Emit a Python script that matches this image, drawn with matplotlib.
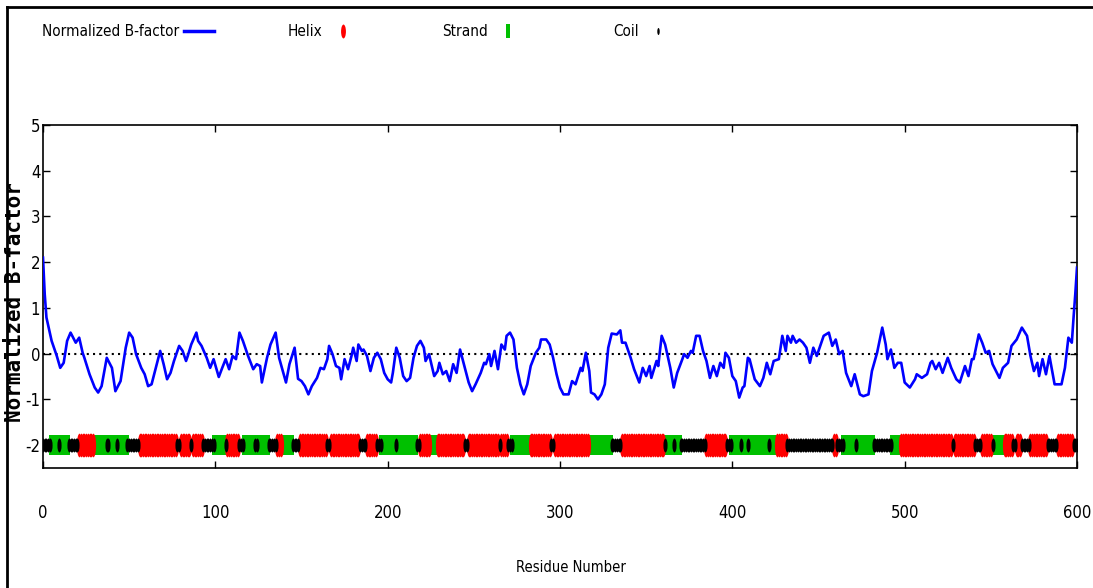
import numpy as np
import matplotlib
matplotlib.use('Agg')
import matplotlib.pyplot as plt
from matplotlib.lines import Line2D
from matplotlib.path import Path
from matplotlib.transforms import Affine2D

# normalized B-factor profile
residue = [0, 1, 2, 5, 8, 10, 12, 14, 16, 18, 19, 21, 23, 24, 27, 30, 32, 34, 37, 40,
           42, 45, 48, 50, 52, 54, 57, 59, 61, 63, 66, 68, 70, 72, 74, 76, 79, 81, 83, 84,
           86, 89, 90, 92, 95, 97, 99, 101, 102, 104, 106, 108, 110, 112, 114, 116, 119, 122, 124, 126,
           127, 130, 132, 135, 137, 141, 143, 146, 148, 150, 152, 154, 156, 159, 161, 163, 165, 166, 168, 170,
           172, 173, 175, 177, 179, 180, 182, 183, 185, 186, 188, 190, 192, 194, 196, 198, 200, 202, 203, 205,
           207, 209, 211, 213, 215, 217, 219, 221, 222, 224, 227, 229, 230, 232, 234, 236, 238, 240, 242, 245,
           247, 249, 251, 254, 256, 257, 259, 260, 262, 264, 266, 268, 269, 271, 273, 275, 277, 279, 281, 283,
           286, 288, 289, 292, 294, 296, 298, 300, 302, 305, 307, 309, 312, 313, 315, 317, 318, 320, 322, 324,
           326, 328, 330, 333, 335, 336, 338, 341, 343, 346, 348, 350, 352, 353, 356, 357, 359, 361, 364, 366,
           368, 371, 372, 374, 376, 377, 379, 381, 383, 385, 387, 389, 391, 393, 395, 396, 398, 400, 402, 404,
           406, 407, 409, 410, 413, 416, 418, 420, 422, 424, 427, 429, 431, 432, 434, 435, 437, 439, 441, 443,
           445, 447, 449, 451, 453, 456, 458, 460, 462, 464, 466, 469, 471, 474, 476, 479, 481, 484, 487, 489,
           490, 492, 494, 496, 498, 500, 503, 506, 507, 510, 513, 515, 516, 518, 520, 522, 525, 527, 530, 532,
           535, 537, 539, 540, 543, 545, 547, 549, 551, 555, 557, 560, 562, 565, 568, 571, 573, 575, 577, 578,
           580, 582, 584, 587, 591, 593, 595, 597, 598, 599, 600]
bfactor = [2.10, 1.30, 0.79, 0.28, -0.05, -0.31, -0.20, 0.28, 0.46, 0.31, 0.24, 0.35, 0.02, -0.09, -0.45, -0.74, -0.85, -0.71, -0.09, -0.31,
           -0.82, -0.60, 0.13, 0.46, 0.35, -0.01, -0.31, -0.45, -0.71, -0.67, -0.23, 0.06, -0.23, -0.56, -0.42, -0.16, 0.17, 0.06, -0.16, -0.05,
           0.20, 0.46, 0.28, 0.17, -0.09, -0.31, -0.12, -0.38, -0.51, -0.31, -0.12, -0.34, -0.05, -0.12, 0.46, 0.28, -0.05, -0.34, -0.23, -0.27,
           -0.63, -0.09, 0.20, 0.46, -0.09, -0.63, -0.23, 0.13, -0.55, -0.60, -0.71, -0.89, -0.71, -0.53, -0.31, -0.34, -0.12, 0.17, -0.01, -0.27,
           -0.31, -0.56, -0.12, -0.34, -0.05, 0.13, -0.16, 0.20, 0.06, 0.09, -0.05, -0.38, -0.09, 0.02, -0.12, -0.42, -0.56, -0.63, -0.42, 0.13,
           -0.09, -0.49, -0.60, -0.53, -0.09, 0.17, 0.28, 0.13, -0.16, -0.01, -0.49, -0.38, -0.20, -0.45, -0.38, -0.60, -0.23, -0.42, 0.09, -0.34,
           -0.63, -0.82, -0.67, -0.42, -0.20, -0.23, -0.01, -0.27, 0.06, -0.34, 0.20, 0.09, 0.39, 0.46, 0.31, -0.31, -0.67, -0.89, -0.67, -0.27,
           0.02, 0.13, 0.31, 0.31, 0.20, -0.09, -0.45, -0.74, -0.89, -0.89, -0.60, -0.67, -0.31, -0.38, 0.02, -0.38, -0.85, -0.89, -1.00, -0.89,
           -0.67, 0.13, 0.44, 0.42, 0.51, 0.24, 0.24, -0.09, -0.34, -0.63, -0.31, -0.49, -0.27, -0.53, -0.16, -0.27, 0.39, 0.20, -0.31, -0.74,
           -0.42, -0.12, -0.01, -0.09, 0.06, 0.02, 0.39, 0.39, 0.06, -0.16, -0.53, -0.27, -0.49, -0.20, -0.31, 0.02, -0.09, -0.49, -0.60, -0.96,
           -0.74, -0.71, -0.09, -0.12, -0.56, -0.71, -0.53, -0.20, -0.45, -0.16, -0.12, 0.39, 0.06, 0.39, 0.24, 0.39, 0.24, 0.31, 0.24, 0.13,
           -0.20, 0.13, -0.05, 0.17, 0.39, 0.46, 0.17, 0.31, -0.01, 0.06, -0.42, -0.71, -0.45, -0.89, -0.93, -0.89, -0.38, 0.02, 0.57, 0.20,
           -0.12, 0.09, -0.31, -0.20, -0.20, -0.63, -0.74, -0.56, -0.45, -0.53, -0.45, -0.20, -0.16, -0.34, -0.20, -0.42, -0.09, -0.31, -0.56, -0.63,
           -0.27, -0.49, -0.12, -0.12, 0.42, 0.24, 0.02, 0.06, -0.23, -0.53, -0.31, -0.20, 0.17, 0.31, 0.57, 0.39, -0.05, -0.38, -0.20, -0.49,
           -0.12, -0.45, -0.05, -0.67, -0.67, -0.31, 0.35, 0.24, 0.79, 1.30, 1.88]

# secondary structure (residue ranges, inclusive)
helix = [(21, 29), (56, 77), (80, 85), (87, 92), (107, 113), (136, 138), (149, 164), (167, 183),
         (188, 193), (219, 224), (229, 244), (247, 264), (266, 269), (283, 294), (297, 316), (336, 360),
         (385, 396), (426, 431), (459, 460), (498, 527), (529, 540), (545, 550), (558, 562), (565, 567),
         (573, 582), (589, 597)]
strand = [(5, 14), (30, 36), (39, 48), (100, 105), (117, 122), (125, 130), (138, 144), (197, 216),
          (225, 228), (273, 283), (317, 329), (362, 369), (400, 408), (410, 426), (465, 481), (493, 498),
          (552, 558)]
coil_breaks = [9, 43, 205, 366, 405, 421, 472]
n_res = 600
ss_level = -2

xticks = [0, 100, 200, 300, 400, 500, 600]
yticks = [-2, -1, 0, 1, 2, 3, 4, 5]

W, H = 1093, 588
plt.rcParams['font.family'] = ['DejaVu Sans']
plt.rcParams['font.stretch'] = 'condensed'

fig = plt.figure(figsize=(W / 100, H / 100), dpi=100)
ax = fig.add_axes([43 / W, 1 - 468 / H, (1077 - 43) / W, (468 - 125) / H])

ss = np.array(['C'] * (n_res + 1))
for s, e in strand:
    ss[s:e + 1] = 'E'
for s, e in helix:
    ss[s:e + 1] = 'H'
ss[coil_breaks] = 'C'
pos = np.arange(n_res + 1)

ell_h = Path.unit_circle().transformed(Affine2D().scale(0.22, 1.0))
ell_c = Path.unit_circle().transformed(Affine2D().scale(0.3, 1.0))
ell_k = Path.unit_circle().transformed(Affine2D().scale(0.35, 1.0))
box = [(-0.3, -1), (0.3, -1), (0.3, 1), (-0.3, 1)]

green = '#00c000'
ax.plot(pos[ss == 'E'], np.full((ss == 'E').sum(), ss_level), ls='none', marker=box,
        ms=15, mew=0, color=green, zorder=2)
ax.plot(pos[ss == 'H'], np.full((ss == 'H').sum(), ss_level), ls='none', marker=ell_h,
        ms=17, mew=0, color='#ff0000', zorder=3)
ax.plot(pos[ss == 'C'], np.full((ss == 'C').sum(), ss_level), ls='none', marker=ell_c,
        ms=10, mew=0, color='black', zorder=4)

ax.axhline(0, color='black', ls=(0, (1, 2)), lw=1.5, zorder=1)
ax.plot(residue, bfactor, color='#0000ff', lw=1.9, zorder=5)

ax.set_xlim(0, 600)
ax.set_ylim(-2.5, 5)
ax.set_xticks(xticks)
ax.set_yticks(yticks)
ax.set_xticklabels([str(t) for t in xticks])
ax.set_yticklabels([str(t) for t in yticks])
ax.tick_params(direction='in', top=True, right=True, length=5, width=1, labelsize=12)
ax.tick_params(axis='x', pad=26)
ax.tick_params(axis='y', pad=2)
for sp in ax.spines.values():
    sp.set_linewidth(1.2)

fig.text(571 / W, 1 - 567 / H, 'Residue Number', ha='center', va='center', fontsize=10.5)
fig.text(15 / W, 1 - 302 / H, 'Normalized B-factor', rotation=90, ha='center', va='center',
         family='DejaVu Sans Mono', weight='bold', stretch='normal', fontsize=15)

# key along the top
keys = [
    (Line2D([], [], color='#0000ff', lw=2.5), 'Normalized B-factor', 42),
    (Line2D([], [], ls='none', marker=ell_k, ms=10, mew=0, color='#ff0000'), 'Helix', 288),
    (Line2D([], [], ls='none', marker=box, ms=10, mew=0, color=green), 'Strand', 442),
    (Line2D([], [], ls='none', marker=ell_k, ms=5, mew=0, color='black'), 'Coil', 613),
]
for h, lab, x in keys:
    fig.legend(handles=[h], labels=[lab], loc='center left', bbox_to_anchor=(x / W, 1 - 32 / H),
               frameon=False, markerfirst=False, borderpad=0, borderaxespad=0,
               handlelength=2.0, handletextpad=0.3, fontsize=11)

# outer frame (left and top edges)
fig.add_artist(Line2D([7 / W, 7 / W], [0, 1 - 7 / H], transform=fig.transFigure, color='black', lw=2))
fig.add_artist(Line2D([7 / W, 1], [1 - 7 / H, 1 - 7 / H], transform=fig.transFigure, color='black', lw=2))

fig.savefig('out.png', dpi=100)
